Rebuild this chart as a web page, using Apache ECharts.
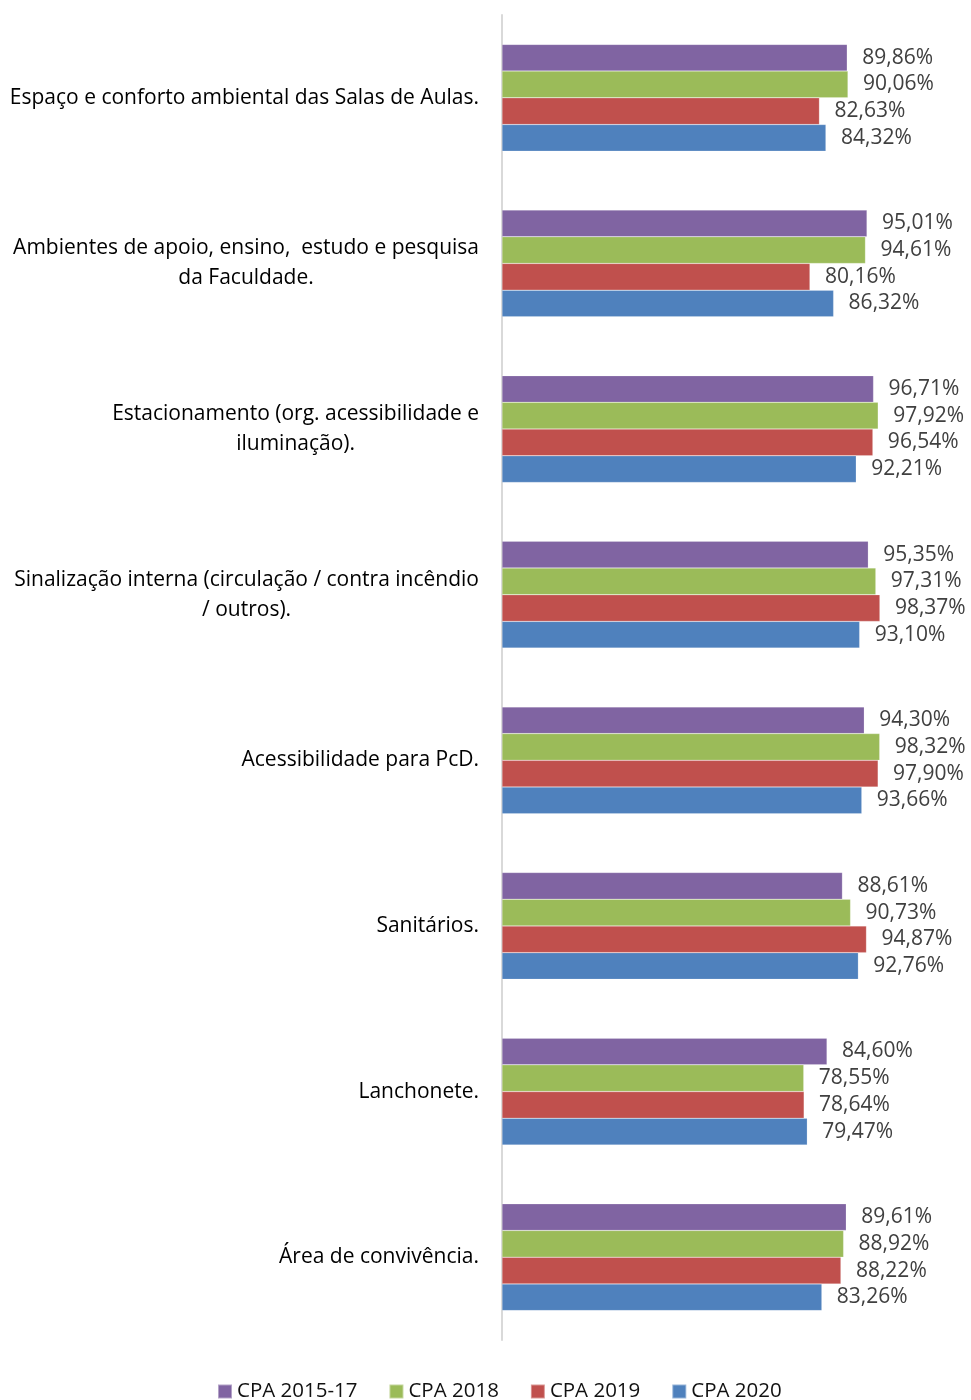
<!DOCTYPE html>
<html>
<head>
<meta charset="utf-8">
<script src="https://cdn.jsdelivr.net/npm/echarts@6/dist/echarts.min.js"></script>
<style>
html,body{margin:0;padding:0;background:#fff;}
#chart{width:971px;height:1400px;}
</style>
</head>
<body>
<div id="chart"></div>
<script>
const categories = [
  "Espaço e conforto ambiental das Salas de Aulas.",
  "Ambientes de apoio, ensino,  estudo e pesquisa\nda Faculdade.",
  "Estacionamento (org. acessibilidade e\niluminação).",
  "Sinalização interna (circulação / contra incêndio\n/ outros).",
  "Acessibilidade para PcD.",
  "Sanitários.",
  "Lanchonete.",
  "Área de convivência."
];
const seriesNames = ["CPA 2015-17", "CPA 2018", "CPA 2019", "CPA 2020"];
const cpa2015_17 = [89.86, 95.01, 96.71, 95.35, 94.30, 88.61, 84.60, 89.61];
const cpa2018    = [90.06, 94.61, 97.92, 97.31, 98.32, 90.73, 78.55, 88.92];
const cpa2019    = [82.63, 80.16, 96.54, 98.37, 97.90, 94.87, 78.64, 88.22];
const cpa2020    = [84.32, 86.32, 92.21, 93.10, 93.66, 92.76, 79.47, 83.26];

const colors = ["#8064A2", "#9BBB59", "#C0504D", "#4F81BD"];
const FONT = "Open Sans";
const values = [cpa2015_17, cpa2018, cpa2019, cpa2020];

const chart = echarts.init(document.getElementById('chart'), null, {renderer: 'canvas'});
const option = {
  animation: false,
  textStyle: {fontFamily: FONT},
  grid: {left: 502, right: 8, top: 15, bottom: 60, containLabel: false},
  xAxis: {
    type: 'value', min: 0, max: 120, interval: 20,
    show: false
  },
  yAxis: {
    type: 'category',
    data: categories,
    inverse: true,
    axisLine: {show: true, lineStyle: {color: '#D9D9D9', width: 2}},
    axisTick: {show: false},
    axisLabel: {
      margin: 23,
      align: 'right',
      formatter: function (v) {
        return v.split('\n').map(s => '{c|' + s + '}').join('\n');
      },
      rich: {
        c: {align: 'center', fontSize: 21, lineHeight: 30, color: '#000', fontFamily: FONT}
      }
    }
  },
  legend: {
    top: 1381,
    left: 217,
    padding: 0,
    icon: 'rect',
    itemWidth: 14,
    itemHeight: 14,
    itemGap: 31,
    textStyle: {fontSize: 20.5, color: '#111', fontFamily: FONT},
    data: seriesNames
  },
  series: seriesNames.map((name, i) => ({
    name: name,
    type: 'bar',
    data: values[i],
    barGap: '0%',
    barCategoryGap: '35.5%',
    itemStyle: {color: colors[i], borderColor: 'rgba(255,255,255,0.4)', borderWidth: 0.5},
    label: {
      show: true,
      position: 'right',
      distance: 15,
      fontSize: 21,
      color: '#404040',
      fontFamily: FONT,
      formatter: p => p.value.toFixed(2).replace('.', ',') + '%'
    }
  }))
};
chart.setOption(option);
</script>
</body>
</html>
